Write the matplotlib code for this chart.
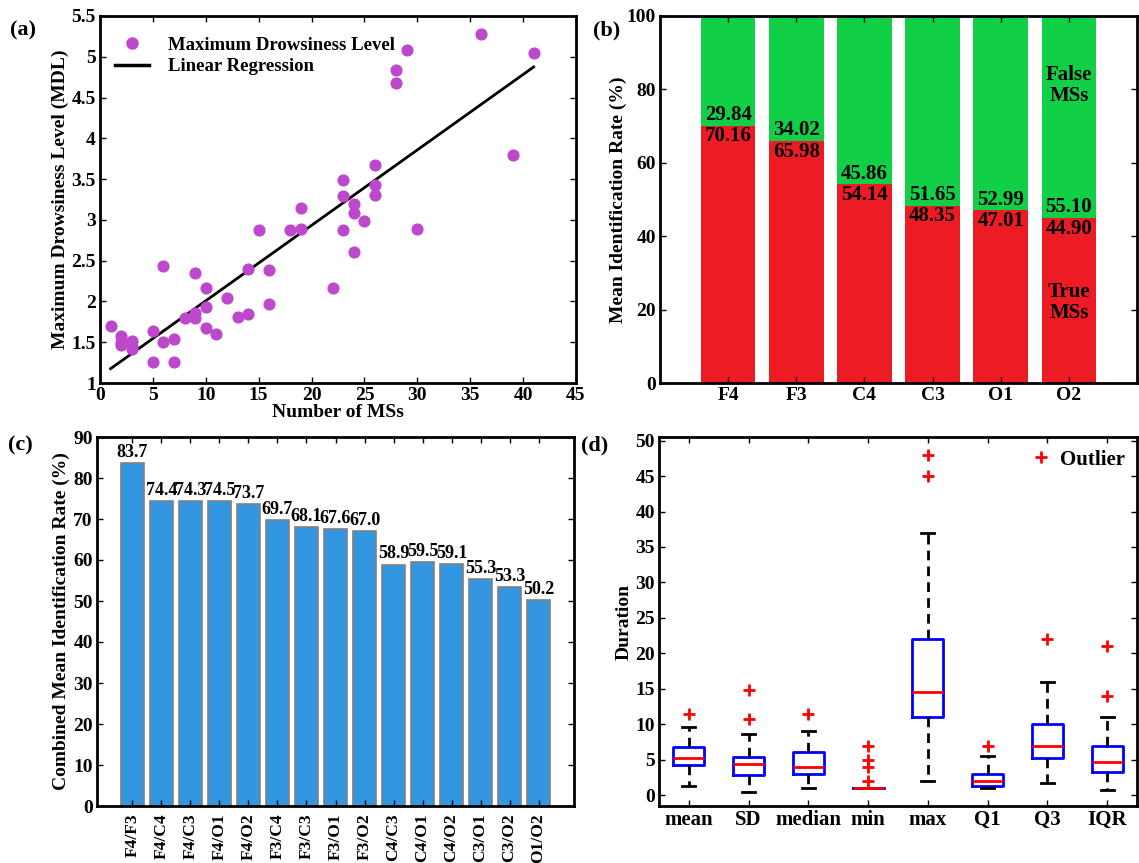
import numpy as np
import matplotlib
matplotlib.use("Agg")
import matplotlib.pyplot as plt
from matplotlib.lines import Line2D

plt.rcParams['font.family'] = ['Liberation Serif', 'DejaVu Serif']
plt.rcParams['font.weight'] = 'bold'
plt.rcParams['axes.labelweight'] = 'bold'

# (a) number of MSs vs maximum drowsiness level
ms_count = [1, 2, 2, 2, 3, 3, 3, 5, 5, 6, 6, 7, 7, 8, 9, 9, 9, 10, 10, 10, 11, 12, 13,
            14, 14, 15, 16, 16, 18, 19, 19, 22, 23, 23, 23, 24, 24, 24, 25, 26, 26, 26,
            28, 28, 29, 30, 36, 39, 41]
mdl = [1.70, 1.58, 1.50, 1.46, 1.52, 1.45, 1.42, 1.64, 1.26, 2.44, 1.50, 1.54, 1.26,
       1.80, 2.35, 1.86, 1.80, 2.17, 1.93, 1.68, 1.60, 2.04, 1.81, 2.40, 1.85, 2.87,
       2.39, 1.97, 2.87, 3.14, 2.89, 2.17, 3.49, 3.29, 2.87, 3.20, 3.09, 2.61, 2.99,
       3.67, 3.43, 3.30, 4.84, 4.68, 5.08, 2.89, 5.28, 3.79, 5.05]
reg_slope = 0.0925
reg_intercept = 1.083
reg_range = [1, 41]

# (b) per-channel identification rate
channels = ['F4', 'F3', 'C4', 'C3', 'O1', 'O2']
true_ms = [70.16, 65.98, 54.14, 48.35, 47.01, 44.90]
false_ms = [29.84, 34.02, 45.86, 51.65, 52.99, 55.10]

# (c) channel pairs
pairs = ['F4/F3', 'F4/C4', 'F4/C3', 'F4/O1', 'F4/O2', 'F3/C4', 'F3/C3', 'F3/O1',
         'F3/O2', 'C4/C3', 'C4/O1', 'C4/O2', 'C3/O1', 'C3/O2', 'O1/O2']
pair_rate = [83.7, 74.4, 74.3, 74.5, 73.7, 69.7, 68.1, 67.6, 67.0, 58.9, 59.5, 59.1,
             55.3, 53.3, 50.2]

# (d) duration statistics: whisker low, q1, median, q3, whisker high, outliers
feat_names = ['mean', 'SD', 'median', 'min', 'max', 'Q1', 'Q3', 'IQR']
whis_lo = [1.3, 0.5, 1.0, 1.0, 2.0, 1.0, 1.7, 0.7]
q1 = [4.3, 2.8, 3.0, 1.0, 11.0, 1.3, 5.3, 3.3]
med = [5.3, 4.4, 4.0, 1.0, 14.5, 2.0, 6.9, 4.7]
q3 = [6.8, 5.4, 6.1, 1.0, 22.0, 3.0, 10.0, 7.0]
whis_hi = [9.6, 8.6, 9.0, 1.0, 37.0, 5.5, 16.0, 11.0]
outliers = [[11.5], [10.7, 14.8], [11.5], [2, 4, 5, 7], [45, 48], [7], [22], [14, 21]]

fig = plt.figure(figsize=(11.39, 8.63), dpi=100)
W, H = 1139, 863
TICK = 14
LABEL = 14


def add_ax(l, r, t, b):
    return fig.add_axes([l / W, 1 - b / H, (r - l) / W, (b - t) / H])


def style(ax):
    ax.tick_params(direction='in', top=True, right=True, labelsize=TICK, width=1, length=4,
                   pad=3)
    for s in ax.spines.values():
        s.set_linewidth(2)
    for lab in ax.get_xticklabels() + ax.get_yticklabels():
        lab.set_fontweight('bold')


# ---- (a)
ax = add_ax(100, 576, 16, 383)
ax.scatter(ms_count, mdl, s=60, color='#BD48CB', zorder=3)
xr = np.array(reg_range)
ax.plot(xr, reg_intercept + reg_slope * xr, color='black', lw=2)
ax.set_xlim(0, 45)
ax.set_ylim(1, 5.5)
ax.set_xticks(np.arange(0, 46, 5))
ax.set_yticks(np.arange(1, 5.6, 0.5))
ax.set_yticklabels(['1', '1.5', '2', '2.5', '3', '3.5', '4', '4.5', '5', '5.5'])
ax.set_xlabel('Number of MSs', fontsize=LABEL, labelpad=0)
ax.set_ylabel('Maximum Drowsiness Level (MDL)', fontsize=LABEL, labelpad=2)
handles = [Line2D([], [], ls='none', marker='o', ms=8, color='#BD48CB'),
           Line2D([], [], color='black', lw=2.5)]
ax.legend(handles, ['Maximum Drowsiness Level', 'Linear Regression'], loc='upper left',
          frameon=False, prop={'size': 13.5, 'weight': 'bold'}, handlelength=1.8,
          handletextpad=1.0, borderaxespad=0.4, labelspacing=0.25,
          bbox_to_anchor=(0.0, 0.985))
style(ax)
fig.text(10 / W, 1 - 30 / H, '(a)', fontsize=16, fontweight='bold', va='center')

# ---- (b)
ax = add_ax(660, 1137, 16, 383)
xb = np.arange(1, len(channels) + 1)
ax.bar(xb, true_ms, width=0.8, color='#ED1C24')
ax.bar(xb, false_ms, bottom=true_ms, width=0.8, color='#12CF48')
for x, t, f in zip(xb, true_ms, false_ms):
    ax.text(x, t + 0.2, f'{f:.2f}', ha='center', va='bottom', fontsize=15, fontweight='bold')
    ax.text(x, t - 0.2, f'{t:.2f}', ha='center', va='top', fontsize=15, fontweight='bold')
ax.text(xb[-1], 81, 'False\nMSs', ha='center', va='center', fontsize=15, fontweight='bold',
        linespacing=1.05)
ax.text(xb[-1], 22, 'True\nMSs', ha='center', va='center', fontsize=15, fontweight='bold',
        linespacing=1.05)
ax.set_xlim(0, 7)
ax.set_ylim(0, 100)
ax.set_xticks(xb)
ax.set_xticklabels(channels)
ax.set_yticks(np.arange(0, 101, 20))
ax.set_ylabel('Mean Identification Rate (%)', fontsize=LABEL, labelpad=0)
style(ax)
fig.text(593 / W, 1 - 30 / H, '(b)', fontsize=16, fontweight='bold', va='center')

# ---- (c)
ax = add_ax(97, 574, 437, 806)
xc = np.arange(1, len(pairs) + 1)
ax.bar(xc, pair_rate, width=0.8, color='#3396E0', edgecolor='#808080', linewidth=1.2)
for x, v in zip(xc, pair_rate):
    ax.text(x, v + 0.5, f'{v:.1f}', ha='center', va='bottom', fontsize=13, fontweight='bold')
ax.set_xlim(-0.22, 16.22)
ax.set_ylim(0, 90)
ax.set_xticks(xc)
ax.set_xticklabels(pairs, rotation=90)
ax.set_yticks(np.arange(0, 91, 10))
ax.set_ylabel('Combined Mean Identification Rate (%)', fontsize=LABEL, labelpad=2)
style(ax)
ax.tick_params(axis='x', labelsize=12.5, pad=5)
fig.text(8 / W, 1 - 445 / H, '(c)', fontsize=16, fontweight='bold', va='center')

# ---- (d)
ax = add_ax(659, 1137, 437, 806)
stats = []
for i, name in enumerate(feat_names):
    stats.append({'label': name, 'whislo': whis_lo[i], 'q1': q1[i], 'med': med[i],
                  'q3': q3[i], 'whishi': whis_hi[i], 'fliers': outliers[i]})
ax.bxp(stats, positions=np.arange(1, 9), widths=0.52, capwidths=0.22,
       boxprops=dict(color='#0000FF', lw=2),
       medianprops=dict(color='#FF0000', lw=2),
       whiskerprops=dict(color='black', lw=2, ls=(0, (3.5, 2.2))),
       capprops=dict(color='black', lw=2),
       flierprops=dict(marker='+', markeredgecolor='#FF0000', markersize=9, markeredgewidth=2))
ax.set_xlim(0.5, 8.5)
ax.set_ylim(-1.5, 50.5)
ax.set_yticks(np.arange(0, 51, 5))
ax.set_ylabel('Duration', fontsize=LABEL, labelpad=2)
ax.legend([Line2D([], [], ls='none', marker='+', color='#FF0000', ms=9, mew=2)], ['Outlier'],
          loc='upper right', frameon=False, prop={'size': 15, 'weight': 'bold'},
          handlelength=1.0, handletextpad=0.4, borderaxespad=0.2)
style(ax)
ax.tick_params(axis='x', labelsize=15)
fig.text(581 / W, 1 - 445 / H, '(d)', fontsize=16, fontweight='bold', va='center')

fig.savefig('out.png', dpi=100)
